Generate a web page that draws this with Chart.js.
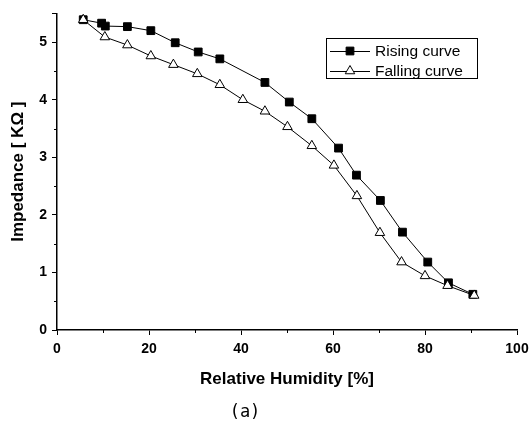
<!DOCTYPE html>
<html lang="en">
<head>
  <meta charset="UTF-8">
  <title>Impedance vs Relative Humidity</title>
  <script src="https://cdn.jsdelivr.net/npm/chart.js"></script>
  <style>
    html, body { margin: 0; padding: 0; background: #fff; }
    #wrap { width: 532px; height: 428px; }
  </style>
</head>
<body>
  <div id="wrap"><canvas id="chart" width="532" height="428"></canvas></div>

  <script>
    // values
    const risingX = [5.7, 9.7, 10.5, 15.3, 20.4, 25.7, 30.7, 35.4, 45.2, 50.5, 55.4, 61.2, 65.1, 70.3, 75.1, 80.6, 85.1, 90.4];
    const risingY = [5.39, 5.33, 5.28, 5.27, 5.20, 4.99, 4.83, 4.71, 4.30, 3.96, 3.67, 3.16, 2.69, 2.25, 1.70, 1.18, 0.82, 0.62];
    const fallingX = [5.7, 10.4, 15.3, 20.4, 25.3, 30.5, 35.4, 40.4, 45.2, 50.1, 55.4, 60.2, 65.2, 70.2, 74.9, 80.0, 84.9, 90.7];
    const fallingY = [5.39, 5.09, 4.95, 4.76, 4.61, 4.45, 4.26, 4.00, 3.80, 3.53, 3.20, 2.86, 2.33, 1.69, 1.18, 0.94, 0.77, 0.60];
    const seriesNames = ['Rising curve', 'Falling curve'];
    const xTitle = 'Relative Humidity [%]';
    const yTitle = 'Impedance [ K\u03A9 ]';
    const caption = '(a)';
    const xMinorTicks = [10, 30, 50, 70, 90];
    const yMinorTicks = [0.5, 1.5, 2.5, 3.5, 4.5];

    const FONT = '"Liberation Sans", Arial, sans-serif';
    const toPoints = (xs, ys) => xs.map((x, i) => ({ x: x, y: ys[i] }));

    // short minor ticks, legend box and caption
    const extras = {
      id: 'extras',
      afterDraw(chart) {
        const ctx = chart.ctx;
        const xs = chart.scales.x, ys = chart.scales.y;
        const area = chart.chartArea;
        ctx.save();
        ctx.strokeStyle = '#000';
        ctx.lineWidth = 1;
        ctx.beginPath();
        xMinorTicks.forEach(v => {
          const px = Math.round(xs.getPixelForValue(v)) + 0.5;
          ctx.moveTo(px, area.bottom);
          ctx.lineTo(px, area.bottom + 3);
        });
        yMinorTicks.forEach(v => {
          const py = Math.round(ys.getPixelForValue(v)) + 0.5;
          ctx.moveTo(area.left, py);
          ctx.lineTo(area.left - 3, py);
        });
        ctx.stroke();

        // legend
        const bx = 326, by = 38, bw = 151, bh = 40;
        ctx.lineWidth = 1;
        ctx.strokeRect(bx + 0.5, by + 0.5, bw, bh);
        ctx.font = '15.5px ' + FONT;
        ctx.textBaseline = 'middle';
        chart.data.datasets.forEach((ds, i) => {
          const ly = by + 13 + i * 20;
          ctx.strokeStyle = '#000';
          ctx.beginPath();
          ctx.moveTo(bx + 4, ly + 0.5);
          ctx.lineTo(bx + 44, ly + 0.5);
          ctx.stroke();
          ctx.fillStyle = ds.pointBackgroundColor;
          Chart.helpers.drawPoint(ctx, { pointStyle: ds.pointStyle, radius: ds.pointRadius, borderWidth: 1 }, bx + 24, ly);
          ctx.fillStyle = '#000';
          ctx.fillText(seriesNames[i], bx + 49, ly + 1);
        });

        ctx.font = '17px "DejaVu Sans Mono", monospace';
        ctx.textAlign = 'center';
        ctx.fillText(caption, 245, 413);
        ctx.restore();
      }
    };

    new Chart(document.getElementById('chart'), {
      type: 'line',
      data: {
        datasets: [{
          label: seriesNames[0],
          data: toPoints(risingX, risingY),
          borderColor: '#000',
          borderWidth: 1,
          pointStyle: 'rect',
          pointRadius: 5.5,
          pointBackgroundColor: '#000',
          pointBorderColor: '#000',
          order: 1
        }, {
          label: seriesNames[1],
          data: toPoints(fallingX, fallingY),
          borderColor: '#000',
          borderWidth: 1,
          pointStyle: 'triangle',
          pointRadius: 5.5,
          pointBackgroundColor: '#fff',
          pointBorderColor: '#000',
          order: 0
        }]
      },
      options: {
        responsive: false,
        animation: false,
        layout: { padding: { top: 11, right: 15, bottom: 34, left: 0 } },
        plugins: {
          legend: { display: false },
          tooltip: { enabled: false }
        },
        scales: {
          x: {
            type: 'linear',
            min: 0,
            max: 100,
            afterFit: s => { s.height = 64; s.paddingRight = 0; s.paddingLeft = 0; },
            border: { display: true, color: '#000', width: 1.5 },
            grid: { drawOnChartArea: false, drawTicks: true, tickLength: 5, color: '#000' },
            ticks: { stepSize: 20, color: '#000', padding: 6, font: { family: FONT, size: 14, weight: 'bold' } },
            title: {
              display: true, text: xTitle, color: '#000',
              padding: { top: 12, bottom: 4 },
              font: { family: FONT, size: 17, weight: 'bold' }
            }
          },
          y: {
            type: 'linear',
            min: 0,
            max: 5.5,
            afterFit: s => { s.width = 57; },
            border: { display: true, color: '#000', width: 1.5 },
            grid: { drawOnChartArea: false, drawTicks: true, tickLength: 5, color: '#000' },
            ticks: {
              stepSize: 1, color: '#000', padding: 5,
              font: { family: FONT, size: 14, weight: 'bold' },
              callback: v => Number.isInteger(v) ? v : ''
            },
            title: {
              display: true, text: yTitle, color: '#000',
              padding: { top: 8, bottom: 4 },
              font: { family: FONT, size: 17, weight: 'bold' }
            }
          }
        }
      },
      plugins: [extras]
    });
  </script>
</body>
</html>
